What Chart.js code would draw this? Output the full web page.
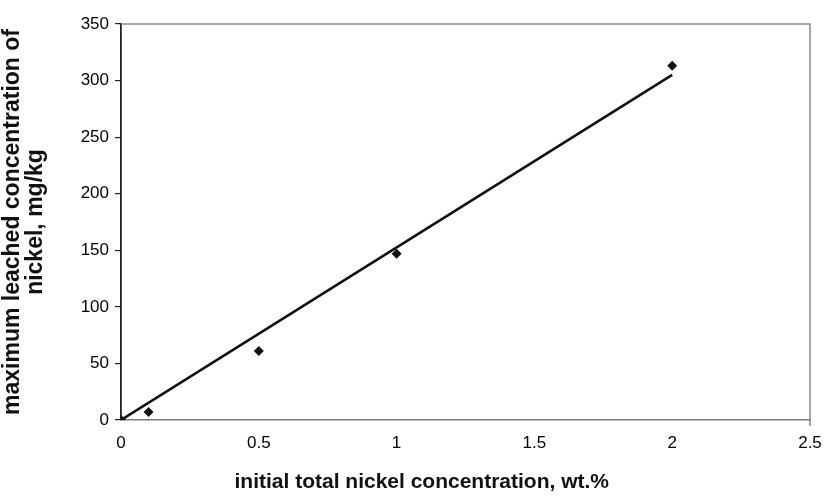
<!DOCTYPE html>
<html>
<head>
<meta charset="utf-8">
<script src="https://cdn.jsdelivr.net/npm/chart.js@4.4.1/dist/chart.umd.min.js"></script>
<style>
    html, body { margin: 0; padding: 0; background: #ffffff; }
    #wrap { width: 825px; height: 497px; }
</style>
</head>
<body>
<div id="wrap"><canvas id="nickelChart" width="825" height="497"></canvas></div>
<script>
// measured points
const nickelInitial = [0, 0.1, 0.5, 1, 2];
const nickelLeached = [0, 7, 61, 147, 313];

// linear trendline ends
const trendX = [0, 2];
const trendY = [0, 305];

const xTicks = [0, 0.5, 1, 1.5, 2, 2.5];
const yTicks = [0, 50, 100, 150, 200, 250, 300, 350];

const frame = {
    id: 'frame',
    beforeDatasetsDraw(chart) {
        const { ctx, chartArea: a } = chart;
        ctx.save();
        ctx.strokeStyle = '#8a8a8a';
        ctx.lineWidth = 1.5;
        ctx.beginPath();
        ctx.moveTo(a.left, a.top);
        ctx.lineTo(a.right, a.top);
        ctx.lineTo(a.right, a.bottom + 6);
        ctx.stroke();
        ctx.restore();
    }
};

new Chart(document.getElementById('nickelChart'), {
    type: 'scatter',
    data: {
        datasets: [
            {
                label: 'trend',
                type: 'line',
                data: trendX.map((x, i) => ({ x: x, y: trendY[i] })),
                borderColor: '#111111',
                borderWidth: 2.6,
                pointRadius: 0,
                fill: false
            },
            {
                label: 'data',
                data: nickelInitial.map((x, i) => ({ x: x, y: nickelLeached[i] })),
                pointStyle: 'rectRot',
                pointRadius: 5,
                backgroundColor: '#111111',
                borderColor: '#111111',
                borderWidth: 0
            }
        ]
    },
    options: {
        responsive: false,
        animation: false,
        devicePixelRatio: 1,
        layout: { padding: { top: 24, right: 15, left: 0, bottom: 0 } },
        plugins: {
            legend: { display: false },
            tooltip: { enabled: false }
        },
        scales: {
            x: {
                type: 'linear',
                min: 0,
                max: 2.5,
                afterBuildTicks: scale => { scale.ticks = xTicks.map(v => ({ value: v })); },
                afterFit: scale => {
                    scale.height = 77;
                    // let "2.5" hang past the plot edge
                    scale.paddingLeft = 0;
                    scale.paddingRight = 0;
                },
                grid: { display: false, drawTicks: false },
                border: { color: '#7a7a7a', width: 1.5 },
                ticks: {
                    color: '#000000',
                    padding: 13,
                    maxRotation: 0,
                    callback: v => String(v),
                    font: { family: 'Liberation Sans', size: 17 }
                },
                title: {
                    display: true,
                    // trailing spaces nudge the title left like the original
                    text: 'initial total nickel concentration, wt.%               ',
                    color: '#111111',
                    padding: { top: 0, bottom: 2 },
                    font: { family: 'Liberation Sans', size: 21, weight: 'bold', lineHeight: 1.2 }
                }
            },
            y: {
                type: 'linear',
                min: 0,
                max: 350,
                afterBuildTicks: scale => { scale.ticks = yTicks.map(v => ({ value: v })); },
                afterFit: scale => { scale.width = 121; },
                grid: {
                    drawOnChartArea: false,
                    drawTicks: true,
                    tickLength: 6,
                    color: '#222222',
                    lineWidth: 1.2
                },
                border: { color: '#222222', width: 1.8 },
                ticks: {
                    color: '#000000',
                    padding: 6,
                    font: { family: 'Liberation Sans', size: 17 }
                },
                title: {
                    display: true,
                    text: ['maximum leached concentration of', 'nickel, mg/kg'],
                    color: '#111111',
                    padding: { top: 1, bottom: 0 },
                    font: { family: 'Liberation Sans', size: 23, weight: 'bold', lineHeight: 1.0 }
                }
            }
        }
    },
    plugins: [frame]
});
</script>
</body>
</html>
